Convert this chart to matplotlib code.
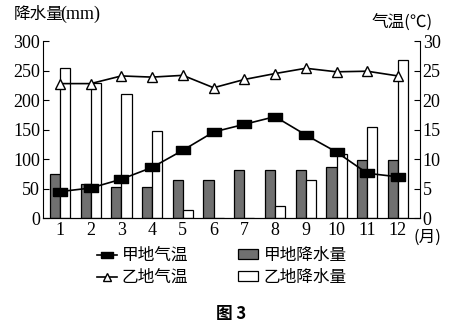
import matplotlib
matplotlib.use("Agg")
import matplotlib.pyplot as plt
from matplotlib.lines import Line2D
from matplotlib.patches import Patch

plt.rcParams['font.family'] = ['Liberation Serif', 'Noto Sans CJK SC', 'DejaVu Sans']

months = [1, 2, 3, 4, 5, 6, 7, 8, 9, 10, 11, 12]
# precipitation (mm)
jia_rain = [75, 58, 53, 53, 65, 65, 81, 81, 81, 86, 99, 99]
yi_rain = [255, 229, 210, 148, 14, 0, 0, 21, 64, 109, 154, 268]
# temperature (C)
jia_temp = [4.5, 5.1, 6.6, 8.6, 11.5, 14.6, 15.9, 17.2, 14.1, 11.2, 7.6, 7.0]
yi_temp = [22.8, 22.8, 24.1, 23.9, 24.2, 22.1, 23.5, 24.5, 25.4, 24.8, 24.9, 24.1]

cn = ['Noto Sans CJK SC', 'DejaVu Sans']

# flat rectangle marker for 甲地
rect = [(-1, -0.55), (1, -0.55), (1, 0.55), (-1, 0.55), (-1, -0.55)]

fig = plt.figure(figsize=(4.62, 3.29), dpi=100)
ax = fig.add_axes([0.093, 0.337, 0.816, 0.538])

w = 0.33
ax.bar(months, jia_rain, width=-w, align='edge', color='#707070',
       edgecolor='black', linewidth=0.9)
ax.bar(months, yi_rain, width=w, align='edge', color='white',
       edgecolor='black', linewidth=0.9)
ax.set_xlim(0.447, 12.716)
ax.set_ylim(0, 300)
ax.set_yticks(range(0, 301, 50))
ax.set_xticks(months)
ax.tick_params(axis='x', length=0, labelsize=13, pad=3)
ax.tick_params(axis='y', direction='in', length=4, labelsize=13, pad=2)
ax.spines['top'].set_visible(False)
ax.spines['right'].set_visible(False)

ax2 = ax.twinx()
ax2.plot(months, jia_temp, color='black', lw=1.2, marker=rect,
         markersize=10, markerfacecolor='black', markeredgecolor='black')
ax2.plot(months, yi_temp, color='black', lw=1.2, marker='^',
         markersize=7.5, markerfacecolor='white', markeredgecolor='black',
         markeredgewidth=1.0)
ax2.set_ylim(0, 30)
ax2.set_yticks(range(0, 31, 5))
ax2.tick_params(axis='y', direction='in', length=4, labelsize=13, pad=2)
ax2.spines['top'].set_visible(False)
ax2.spines['left'].set_visible(False)

fig.text(0.03, 0.955, '降水量', fontsize=12, family=cn, va='center')
fig.text(0.13, 0.955, '(mm)', fontsize=13, va='center')
fig.text(0.805, 0.93, '气温(℃)', fontsize=12, family=cn, va='center')
fig.text(0.925, 0.28, '(月)', fontsize=12, family=cn, va='center', ha='center')

handles = [
    Line2D([], [], color='black', lw=1.2, marker=rect, markersize=8,
           markerfacecolor='black'),
    Line2D([], [], color='black', lw=1.2, marker='^', markersize=6,
           markerfacecolor='white', markeredgecolor='black'),
    Patch(facecolor='#707070', edgecolor='black', linewidth=0.9),
    Patch(facecolor='white', edgecolor='black', linewidth=0.9),
]
labels = ['甲地气温', '乙地气温', '甲地降水量', '乙地降水量']
fig.legend(handles, labels, ncol=2, loc='center', bbox_to_anchor=(0.48, 0.19),
           frameon=False, prop={'family': cn, 'size': 12},
           handlelength=1.2, handleheight=0.55, handletextpad=0.3,
           columnspacing=3.0, labelspacing=0.3)

fig.text(0.5, 0.045, '图 3', fontsize=12, family=cn, weight='bold',
         ha='center', va='center')

fig.savefig('out.png', dpi=100)
